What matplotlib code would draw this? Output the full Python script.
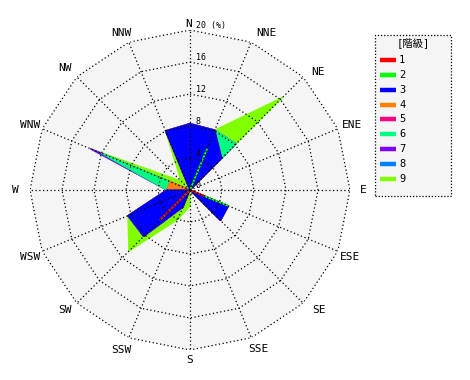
import numpy as np
import matplotlib
matplotlib.use('Agg')
import matplotlib.pyplot as plt
from matplotlib.lines import Line2D
from matplotlib.patches import Rectangle

# ---------------- data ----------------
directions = ['N', 'NNE', 'NE', 'ENE', 'E', 'ESE', 'SE', 'SSE',
              'S', 'SSW', 'SW', 'WSW', 'W', 'WNW', 'NW', 'NNW']
class_labels = ['1', '2', '3', '4', '5', '6', '7', '8', '9']
class_colors = ['#ff0000', '#00ff00', '#0000ff', '#ff8000', '#ff0080',
                '#00ff80', '#8000ff', '#0080ff', '#80ff00']
#        N    NNE  NE    ENE E  ESE  SE   SSE S    SSW  SW   WSW  W    WNW  NW   NNW
c1 = [0.0, 0.0, 0.0, 0, 0, 2.0, 0.0, 0, 0.0, 0.0, 5.3, 0.0, 0.0, 0.0, 0.0, 0.0]
c2 = [0.0, 5.6, 0.0, 0, 0, 3.2, 0.0, 0, 0.0, 0.0, 0.0, 0.0, 0.0, 0.0, 0.0, 0.0]
c3 = [8.3, 2.5, 5.6, 0, 0, 0.0, 5.4, 0, 0.0, 2.3, 2.9, 8.4, 2.9, 0.0, 0.0, 8.0]
c4 = [0.0, 0.0, 0.0, 0, 0, 0.0, 0.0, 0, 0.0, 0.0, 0.0, 0.0, 0.0, 2.7, 0.0, 0.0]
c5 = [0.0, 0.0, 0.0, 0, 0, 0.0, 0.0, 0, 0.0, 0.0, 0.0, 0.0, 0.0, 0.0, 0.0, 0.0]
c6 = [0.0, 0.0, 2.55, 0, 0, 0.0, 0.0, 0, 0.0, 0.0, 0.0, 0.0, 0.0, 9.3, 0.0, 0.0]
c7 = [0.0, 0.0, 0.0, 0, 0, 0.0, 0.0, 0, 0.0, 0.0, 0.0, 0.0, 0.0, 1.5, 0.0, 0.0]
c8 = [0.0, 0.0, 0.0, 0, 0, 0.0, 0.0, 0, 0.0, 0.0, 0.0, 0.0, 0.0, 0.0, 0.0, 0.0]
c9 = [0.0, 0.0, 8.25, 0, 0, 0.0, 0.0, 0, 2.0, 1.7, 2.6, 0.0, 0.0, 0.0, 1.6, 0.0]
ring_values = [4, 8, 12, 16, 20]
tick_values = [0, 4, 8, 12, 16, 20]
tick_texts = ['0', '4', '8', '12', '16', '20 (%)']
legend_title = '[階級]'
# --------------------------------------

W, H = 470, 380
fig = plt.figure(figsize=(W / 100, H / 100), dpi=100)
fig.patch.set_facecolor('white')

cx, cy, R = 190, 190, 160
ax = fig.add_axes([(cx - R) / W, (H - cy - R) / H, 2 * R / W, 2 * R / H],
                  projection='polar')
ax.set_theta_zero_location('N')
ax.set_theta_direction(-1)
ax.set_ylim(0, 20)
ax.grid(False)
ax.set_xticks([])
ax.set_yticks([])
ax.spines['polar'].set_visible(False)
ax.patch.set_visible(False)

n = len(directions)
theta = np.deg2rad(np.arange(n) * 360.0 / n)
theta_c = np.append(theta, theta[0])

# background polygon
ax.fill(theta_c, [ring_values[-1]] * (n + 1), color='#f5f5f5', zorder=0, lw=0)

# stacked radar polygons
series = [c1, c2, c3, c4, c5, c6, c7, c8, c9]
cum = np.cumsum(np.array(series, dtype=float), axis=0)
for k in range(len(series) - 1, -1, -1):
    r = np.append(cum[k], cum[k][0])
    ax.fill(theta_c, r, facecolor=class_colors[k], edgecolor=class_colors[k],
            lw=0.9, zorder=2 + (len(series) - k))

# grid: polygon rings and spokes
gkw = dict(color='black', lw=0.9, ls=(0, (1, 2)), zorder=20)
for rv in ring_values:
    ax.plot(theta_c, [rv] * (n + 1), **gkw)
for th in theta:
    ax.plot([th, th], [0, ring_values[-1]], **gkw)

# direction labels (pixel offsets from the outer vertex; layout only)
label_off_px = [(-1, -6), (15, -9), (15, -5), (14, -4), (13.5, 0), (12, 6),
                (16, 7), (7, 11), (0, 10), (-7, 12), (-12, 7), (-12, 6),
                (-15, 0), (-12, -4), (-12, -9), (-7, -9)]
for th, name, (dx, dy) in zip(theta, directions, label_off_px):
    ax.annotate(name, xy=(th, ring_values[-1]), xytext=(dx * 0.72, -dy * 0.72),
                textcoords='offset points', ha='center', va='center',
                fontsize=8, family='DejaVu Sans Mono', annotation_clip=False)

# radial tick labels
for v, t in zip(tick_values, tick_texts):
    ax.annotate(t, xy=(0, v), xytext=(4, 0.3), textcoords='offset points',
                ha='left', va='bottom', fontsize=6,
                family='DejaVu Sans Mono', zorder=25)

# legend box (drawn manually)
def fx(px):
    return px / W


def fy(py):
    return 1 - py / H


box = Rectangle((fx(375), fy(196)), fx(451) - fx(375), fy(35) - fy(196),
                transform=fig.transFigure, facecolor='#f5f5f5',
                edgecolor='black', lw=0.9, ls=(0, (1, 1.5)))
fig.add_artist(box)
fig.text(fx(413), fy(43), legend_title, ha='center', va='center', fontsize=7.5,
         family=['DejaVu Sans Mono', 'Noto Sans CJK JP'])
for i, (lab, col) in enumerate(zip(class_labels, class_colors)):
    yy = 60 + i * 14.87
    fig.add_artist(Line2D([fx(380), fx(396)], [fy(yy), fy(yy)],
                          transform=fig.transFigure, color=col, lw=3.2,
                          solid_capstyle='butt'))
    fig.text(fx(399), fy(yy), lab, ha='left', va='center', fontsize=7.5,
             family='DejaVu Sans Mono')

fig.savefig('out.png', dpi=100, facecolor='white')
